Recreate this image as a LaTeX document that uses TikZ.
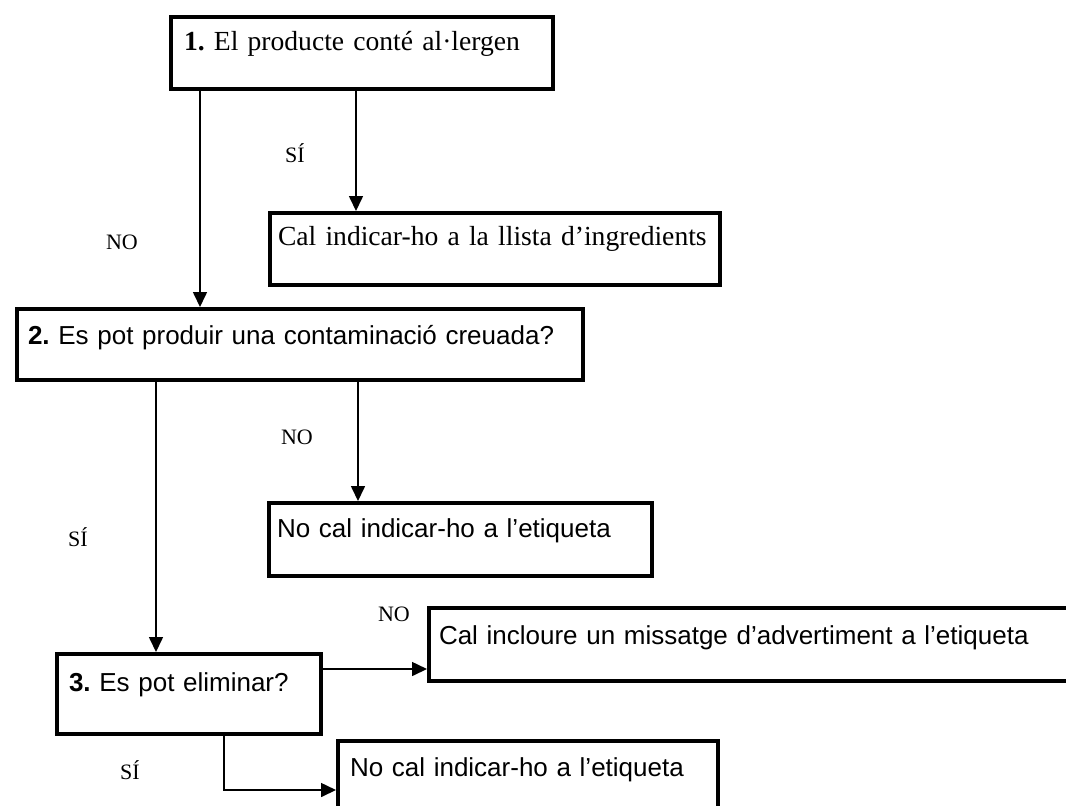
\documentclass[tikz,border=0pt]{standalone}
\usepackage{fontspec}
\setmainfont{Liberation Serif}
\setsansfont{Liberation Sans}
\usetikzlibrary{arrows.meta}
\tikzset{
	box/.style={draw, line width=2pt, anchor=north west, align=left, inner xsep=5pt, inner ysep=0pt},
	sfbox/.style={box, font=\fontsize{13}{15}\selectfont\sffamily},
	rmbox/.style={box, font=\fontsize{13.8}{16}\selectfont\rmfamily},
	lbl/.style={font=\fontsize{11}{13}\selectfont\rmfamily, inner sep=0pt},
	arr/.style={line width=0.8pt, -{Triangle[length=7.5pt,width=7pt]}}
}

\begin{document}
\frenchspacing
\begin{tikzpicture}[x=0.5pt, y=-0.5pt]
			%%%%% START %%%%%
			\useasboundingbox (0, 0) rectangle (1066, 805);
			\clip (0, 0) rectangle (1066, 805);
			
			\node[rmbox, inner xsep=6.5pt, text width=178pt, text height=16.5pt, text depth=19.5pt] (q1) at (169, 15) {\textbf{1.} El producte conté al·lergen};
			\node[rmbox, inner xsep=4pt, text width=217pt, text height=16pt, text depth=20pt] (a1) at (268, 211) {Cal indicar-ho a la llista d’ingredients};
			
			\node[sfbox, inner xsep=5.5pt, text width=272pt, text height=17.5pt, text depth=18pt] (q2) at (15, 307) {\textbf{2.} Es pot produir una contaminació creuada?};
			\node[sfbox, inner xsep=4pt, text width=183.5pt, text height=17pt, text depth=19.5pt] (a2) at (267, 501) {No cal indicar-ho a l’etiqueta};
			
			\node[sfbox, inner xsep=6pt, text width=120pt, text height=18.5pt, text depth=21.5pt] (q3) at (55, 652) {\textbf{3.} Es pot eliminar?};
			\node[sfbox, text width=326.5pt, text height=18pt, text depth=18.5pt] (a3) at (427, 606) {Cal incloure un missatge d’advertiment a l’etiqueta};
			\node[sfbox, inner xsep=6pt, text width=178pt, text height=17.5pt, text depth=32.5pt] (a4) at (336, 739) {No cal indicar-ho a l’etiqueta};
			
			% connectors
			\draw[arr] ([xshift=15.5pt]q1.south west) -- ([xshift=15.5pt]q1.south west |- q2.north);
			\draw[arr] ([xshift=93.5pt]q1.south west) -- ([xshift=93.5pt]q1.south west |- a1.north);
			\draw[arr] ([xshift=70.5pt]q2.south west) -- ([xshift=70.5pt]q2.south west |- q3.north);
			\draw[arr] ([xshift=171.5pt]q2.south west) -- ([xshift=171.5pt]q2.south west |- a2.north);
			\draw[arr] ([yshift=-8.5pt]q3.north east) -- ([yshift=-8.5pt]q3.north east -| a3.west);
			\draw[arr] ([xshift=84.5pt]q3.south west) |- ([yshift=-25.5pt]a4.north west);
			
			% labels
			\node[lbl] (si1) at (295, 153) {SÍ};
			\node[lbl] (no1) at (122, 242) {NO};
			\node[lbl] (no2) at (297, 437) {NO};
			\node[lbl] (si2) at (78, 537) {SÍ};
			\node[lbl] (no3) at (394, 614) {NO};
			\node[lbl] (si3) at (130, 770) {SÍ};
			
			%%%%% END %%%%%
\end{tikzpicture}
\end{document}
